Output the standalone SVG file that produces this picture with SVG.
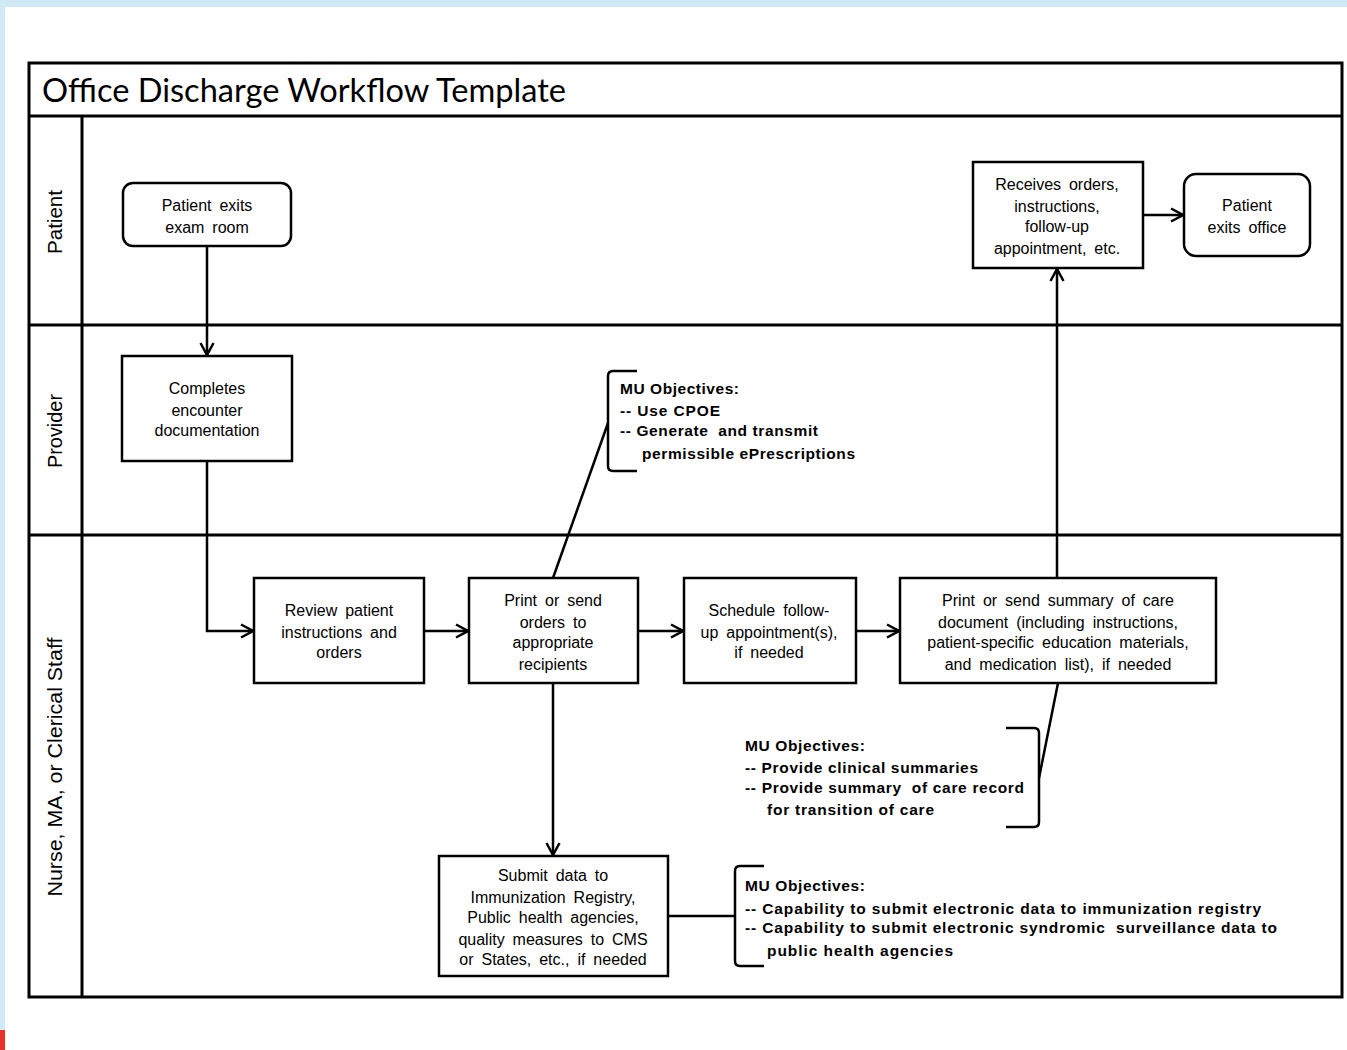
<svg xmlns="http://www.w3.org/2000/svg" width="1347" height="1050" viewBox="0 0 1347 1050">
  <defs>
    <style>
      .frame { fill: none; stroke: #000; stroke-width: 3; }
      .box { fill: #fff; stroke: #000; stroke-width: 2.5; }
      .wire { fill: none; stroke: #000; stroke-width: 2.5; }
      .node { font-family: "Liberation Sans", Arial, sans-serif; font-size: 16px; fill: #000; text-anchor: middle; word-spacing: 3.5px; }
      .lane { font-family: "Liberation Sans", Arial, sans-serif; font-size: 21px; fill: #000; text-anchor: middle; }
      .mu { font-family: "Liberation Sans", Arial, sans-serif; font-size: 15.5px; font-weight: bold; fill: #000; }
      .title { font-family: Lato, "Liberation Sans", sans-serif; font-size: 33px; fill: #000; }
    </style>
    <marker id="arrow" viewBox="0 0 16 16" refX="15" refY="8" markerWidth="16" markerHeight="16" markerUnits="userSpaceOnUse" orient="auto">
      <path d="M3,1.5 L15,8 L3,14.5" fill="none" stroke="#000" stroke-width="2.5"/>
    </marker>
  </defs>

  <!-- page background -->
  <rect x="0" y="0" width="1347" height="1050" fill="#cfe9f6"/>
  <rect x="0" y="1030" width="5" height="20" fill="#e8322b"/>
  <rect x="5" y="7" width="1342" height="1043" fill="#fff"/>

  <!-- pool frame, title row and lanes -->
  <g id="pool">
    <rect class="frame" x="29" y="63" width="1313" height="934"/>
    <line class="frame" x1="29" y1="116" x2="1342" y2="116"/>
    <line class="frame" x1="29" y1="325" x2="1342" y2="325"/>
    <line class="frame" x1="29" y1="535" x2="1342" y2="535"/>
    <line class="frame" x1="82" y1="116" x2="82" y2="997"/>
    <text class="title" x="42" y="102" textLength="524" lengthAdjust="spacingAndGlyphs">Office Discharge Workflow Template</text>
    <text class="lane" transform="translate(62,222) rotate(-90)" textLength="64" lengthAdjust="spacingAndGlyphs">Patient</text>
    <text class="lane" transform="translate(62,431) rotate(-90)" textLength="74" lengthAdjust="spacingAndGlyphs">Provider</text>
    <text class="lane" transform="translate(62,767) rotate(-90)" textLength="259" lengthAdjust="spacingAndGlyphs">Nurse, MA, or Clerical Staff</text>
  </g>

  <!-- connectors -->
  <g id="connectors">
    <line class="wire" x1="207" y1="246" x2="207" y2="355" marker-end="url(#arrow)"/>
    <polyline class="wire" points="207,461 207,631 253,631" marker-end="url(#arrow)"/>
    <line class="wire" x1="424" y1="631" x2="468" y2="631" marker-end="url(#arrow)"/>
    <line class="wire" x1="638" y1="631" x2="683" y2="631" marker-end="url(#arrow)"/>
    <line class="wire" x1="856" y1="631" x2="899" y2="631" marker-end="url(#arrow)"/>
    <line class="wire" x1="553" y1="683" x2="553" y2="855" marker-end="url(#arrow)"/>
    <line class="wire" x1="1057" y1="578" x2="1057" y2="269" marker-end="url(#arrow)"/>
    <line class="wire" x1="1143" y1="215" x2="1183" y2="215" marker-end="url(#arrow)"/>
    <!-- annotation leaders -->
    <line class="wire" x1="553" y1="578" x2="608" y2="423"/>
    <line class="wire" x1="1058" y1="683" x2="1039" y2="778"/>
    <line class="wire" x1="668" y1="916" x2="735" y2="916"/>
  </g>

  <!-- annotation brackets -->
  <g id="mu-provider">
    <path class="wire" d="M637,371 L613,371 Q608,371 608,376 L608,466 Q608,471 613,471 L637,471"/>
    <text class="mu" x="620" y="394" textLength="119">MU Objectives:</text>
    <text class="mu" x="620" y="416" textLength="100">-- Use CPOE</text>
    <text class="mu" x="620" y="436" textLength="198" xml:space="preserve">-- Generate  and transmit</text>
    <text class="mu" x="642" y="459" textLength="213">permissible ePrescriptions</text>
  </g>
  <g id="mu-summary">
    <path class="wire" d="M1006,728 L1034,728 Q1039,728 1039,733 L1039,822 Q1039,827 1034,827 L1006,827"/>
    <text class="mu" x="745" y="751" textLength="120">MU Objectives:</text>
    <text class="mu" x="745" y="773" textLength="233">-- Provide clinical summaries</text>
    <text class="mu" x="745" y="793" textLength="279" xml:space="preserve">-- Provide summary  of care record</text>
    <text class="mu" x="767" y="815" textLength="167">for transition of care</text>
  </g>
  <g id="mu-registry">
    <path class="wire" d="M764,866 L740,866 Q735,866 735,871 L735,961 Q735,966 740,966 L764,966"/>
    <text class="mu" x="745" y="891" textLength="120">MU Objectives:</text>
    <text class="mu" x="745" y="914" textLength="516">-- Capability to submit electronic data to immunization registry</text>
    <text class="mu" x="745" y="933" textLength="532" xml:space="preserve">-- Capability to submit electronic syndromic  surveillance data to</text>
    <text class="mu" x="767" y="956" textLength="186">public health agencies</text>
  </g>

  <!-- nodes -->
  <g id="patient-exits-exam-room">
    <rect class="box" x="123" y="183" width="168" height="63" rx="10"/>
    <text class="node" x="207" y="211">Patient exits</text>
    <text class="node" x="207" y="233">exam room</text>
  </g>
  <g id="completes-documentation">
    <rect class="box" x="122" y="356" width="170" height="105"/>
    <text class="node" x="207" y="394">Completes</text>
    <text class="node" x="207" y="416">encounter</text>
    <text class="node" x="207" y="436">documentation</text>
  </g>
  <g id="review-instructions">
    <rect class="box" x="254" y="578" width="170" height="105"/>
    <text class="node" x="339" y="616">Review patient</text>
    <text class="node" x="339" y="638">instructions and</text>
    <text class="node" x="339" y="658">orders</text>
  </g>
  <g id="print-orders">
    <rect class="box" x="469" y="578" width="169" height="105"/>
    <text class="node" x="553" y="606">Print or send</text>
    <text class="node" x="553" y="628">orders to</text>
    <text class="node" x="553" y="648">appropriate</text>
    <text class="node" x="553" y="670">recipients</text>
  </g>
  <g id="schedule-follow-up">
    <rect class="box" x="684" y="578" width="172" height="105"/>
    <text class="node" x="769" y="616">Schedule follow-</text>
    <text class="node" x="769" y="638">up appointment(s),</text>
    <text class="node" x="769" y="658">if needed</text>
  </g>
  <g id="print-summary">
    <rect class="box" x="900" y="578" width="316" height="105"/>
    <text class="node" x="1058" y="606">Print or send summary of care</text>
    <text class="node" x="1058" y="628">document (including instructions,</text>
    <text class="node" x="1058" y="648">patient-specific education materials,</text>
    <text class="node" x="1058" y="670">and medication list), if needed</text>
  </g>
  <g id="submit-data">
    <rect class="box" x="439" y="856" width="229" height="120"/>
    <text class="node" x="553" y="881">Submit data to</text>
    <text class="node" x="553" y="903">Immunization Registry,</text>
    <text class="node" x="553" y="923">Public health agencies,</text>
    <text class="node" x="553" y="945">quality measures to CMS</text>
    <text class="node" x="553" y="965">or States, etc., if needed</text>
  </g>
  <g id="receives-orders">
    <rect class="box" x="973" y="162" width="170" height="106"/>
    <text class="node" x="1057" y="190">Receives orders,</text>
    <text class="node" x="1057" y="212">instructions,</text>
    <text class="node" x="1057" y="232">follow-up</text>
    <text class="node" x="1057" y="254">appointment, etc.</text>
  </g>
  <g id="patient-exits-office">
    <rect class="box" x="1184" y="174" width="126" height="82" rx="12"/>
    <text class="node" x="1247" y="211">Patient</text>
    <text class="node" x="1247" y="233">exits office</text>
  </g>
</svg>
